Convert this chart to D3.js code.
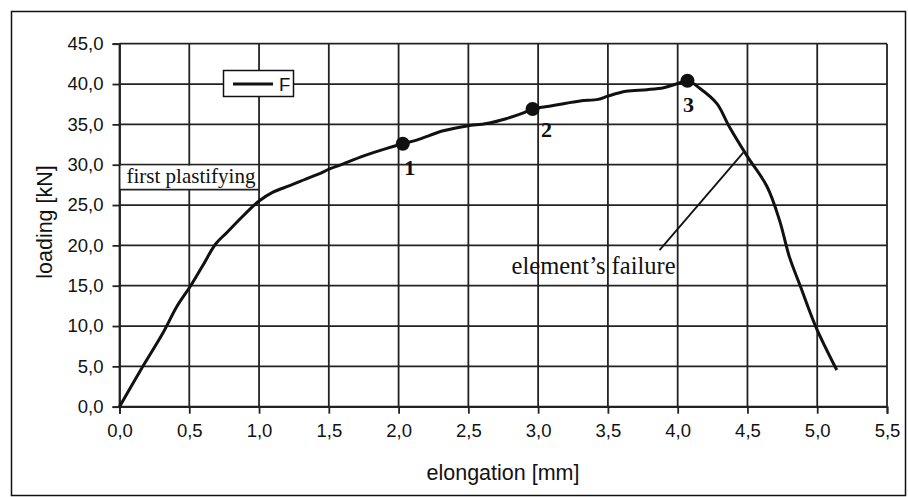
<!DOCTYPE html>
<html><head><meta charset="utf-8">
<script src="https://cdn.jsdelivr.net/npm/d3@7"></script>
<style>
html,body{margin:0;padding:0;background:#fff;}
svg{display:block;}
</style></head>
<body>
<svg id="chart" width="908" height="497"></svg>
<script>
const elongation = [0, 0.15, 0.31, 0.41, 0.51, 0.60, 0.69, 0.77, 0.86, 1.0, 1.1, 1.22, 1.29, 1.42, 1.51, 1.58, 1.75, 1.91, 2.03, 2.13, 2.32, 2.49, 2.63, 2.77, 2.89, 2.96, 3.08, 3.16, 3.30, 3.43, 3.50, 3.63, 3.78, 3.90, 3.99, 4.07, 4.16, 4.28, 4.37, 4.50, 4.64, 4.73, 4.80, 4.88, 4.99, 5.14];
const loading = [0, 4.5, 9.1, 12.4, 15.0, 17.6, 20.2, 21.6, 23.2, 25.5, 26.6, 27.4, 27.9, 28.8, 29.5, 29.95, 31.1, 32.0, 32.6, 33.05, 34.2, 34.8, 35.1, 35.7, 36.4, 36.9, 37.25, 37.5, 37.9, 38.1, 38.5, 39.1, 39.3, 39.55, 40.0, 40.4, 39.45, 37.6, 34.7, 31.0, 27.3, 23.1, 18.6, 14.9, 9.9, 4.55];
const markLabels = ["1", "2", "3"];
const markX = [2.03, 2.96, 4.07];
const markY = [32.6, 36.9, 40.4];
const xTicks = [0, 0.5, 1, 1.5, 2, 2.5, 3, 3.5, 4, 4.5, 5, 5.5];
const yTicks = [0, 5, 10, 15, 20, 25, 30, 35, 40, 45];
const seriesName = "F";
const plastLevel = 26.9;
const plastText = "first plastifying";
const failureText = "element\u2019s failure";
const failureLeader = [[3.87, 19.4], [4.47, 31.5]];
const failureTextPos = [2.81, 16.5];

const svg = d3.select("#chart");
const x = d3.scaleLinear().domain([0, 5.5]).range([119.5, 887]);
const y = d3.scaleLinear().domain([0, 45]).range([406.7, 43.7]);
const fmt = d => d3.format(".1f")(d).replace(".", ",");

// outer frame
svg.append("rect").attr("x", 11.5).attr("y", 11.5).attr("width", 894).attr("height", 484)
  .attr("fill", "none").attr("stroke", "#111").attr("stroke-width", 1.5);

// grid
const g = svg.append("g");
g.selectAll(".hg").data(yTicks).join("line")
  .attr("x1", x(0)).attr("x2", x(5.5)).attr("y1", d => y(d)).attr("y2", d => y(d))
  .attr("stroke", "#222").attr("stroke-width", 1.8);
g.selectAll(".vg").data(xTicks).join("line")
  .attr("x1", d => x(d)).attr("x2", d => x(d)).attr("y1", y(0)).attr("y2", y(45))
  .attr("stroke", "#222").attr("stroke-width", 1.8);

// axes
const xAxis = d3.axisBottom(x).tickValues(xTicks).tickFormat(fmt).tickSize(7).tickPadding(10);
const yAxis = d3.axisLeft(y).tickValues(yTicks).tickFormat(fmt).tickSize(7).tickPadding(9);
const xa = svg.append("g").attr("transform", `translate(0,${y(0)})`).call(xAxis);
const ya = svg.append("g").attr("transform", `translate(${x(0)},0)`).call(yAxis);
[xa, ya].forEach(a => {
  a.select(".domain").attr("stroke", "#222").attr("stroke-width", 1.8);
  a.selectAll(".tick line").attr("stroke", "#222").attr("stroke-width", 1.8);
  a.selectAll("text").attr("font-family", "Liberation Sans, Arial, sans-serif").attr("font-size", 18.5).attr("fill", "#111");
});

// axis titles
svg.append("text").attr("x", 503).attr("y", 480).attr("text-anchor", "middle")
  .attr("font-family", "Liberation Sans, Arial, sans-serif").attr("font-size", 21.5).attr("fill", "#111")
  .text("elongation [mm]");
svg.append("text").attr("transform", "translate(52,222) rotate(-90)").attr("text-anchor", "middle")
  .attr("font-family", "Liberation Sans, Arial, sans-serif").attr("font-size", 21.5).attr("fill", "#111")
  .text("loading [kN]");

// first plastifying box
svg.append("rect").attr("x", x(0) + 1).attr("y", y(30) + 1).attr("width", x(1) - x(0) - 2).attr("height", y(plastLevel) - y(30) - 1)
  .attr("fill", "#fff");
svg.append("line").attr("x1", x(0)).attr("x2", x(1)).attr("y1", y(plastLevel)).attr("y2", y(plastLevel))
  .attr("stroke", "#222").attr("stroke-width", 1.8);
svg.append("text").attr("x", x(0) + 7).attr("y", y(plastLevel) - 7)
  .attr("font-family", "Liberation Serif, Times New Roman, serif").attr("font-size", 21).attr("fill", "#111")
  .text(plastText);

// element's failure
svg.append("line").attr("x1", x(failureLeader[0][0])).attr("y1", y(failureLeader[0][1]))
  .attr("x2", x(failureLeader[1][0])).attr("y2", y(failureLeader[1][1]))
  .attr("stroke", "#111").attr("stroke-width", 1.8);
svg.append("text").attr("x", x(failureTextPos[0])).attr("y", y(failureTextPos[1]))
  .attr("font-family", "Liberation Serif, Times New Roman, serif").attr("font-size", 24.5).attr("fill", "#111")
  .text(failureText);

// curve
const pts = elongation.map((e, i) => [e, loading[i]]);
const line = d3.line().x(d => x(d[0])).y(d => y(d[1])).curve(d3.curveCatmullRom.alpha(0.5));
svg.append("path").datum(pts).attr("d", line).attr("fill", "none")
  .attr("stroke", "#111").attr("stroke-width", 3).attr("stroke-linejoin", "round");

// markers
svg.selectAll(".mk").data(markX).join("circle")
  .attr("cx", d => x(d)).attr("cy", (d, i) => y(markY[i])).attr("r", 7).attr("fill", "#111");
const labOff = [[7, 24], [14, 21], [1, 24]];
svg.selectAll(".ml").data(markLabels).join("text")
  .attr("x", (d, i) => x(markX[i]) + labOff[i][0]).attr("y", (d, i) => y(markY[i]) + labOff[i][1] + 7)
  .attr("text-anchor", "middle")
  .attr("font-family", "Liberation Serif, Times New Roman, serif").attr("font-weight", "bold")
  .attr("font-size", 22).attr("fill", "#111").text(d => d);

// legend
const lg = svg.append("g");
lg.append("rect").attr("x", 223.5).attr("y", 70.5).attr("width", 70).attr("height", 26)
  .attr("fill", "#fff").attr("stroke", "#111").attr("stroke-width", 1.5);
lg.append("line").attr("x1", 233).attr("x2", 273).attr("y1", 84).attr("y2", 84)
  .attr("stroke", "#111").attr("stroke-width", 3);
lg.append("text").attr("x", 279).attr("y", 90.5)
  .attr("font-family", "Liberation Sans, Arial, sans-serif").attr("font-size", 18.5).attr("fill", "#111")
  .text(seriesName);
</script>
</body></html>
